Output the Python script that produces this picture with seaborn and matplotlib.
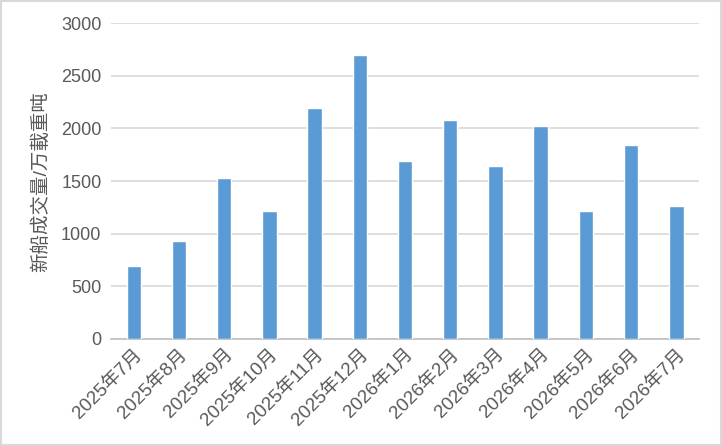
import numpy as np
import pandas as pd
import matplotlib
matplotlib.use('Agg')
import matplotlib.pyplot as plt
import seaborn as sns
from matplotlib.ticker import FixedLocator

months = ['2025年7月', '2025年8月', '2025年9月', '2025年10月', '2025年11月', '2025年12月',
          '2026年1月', '2026年2月', '2026年3月', '2026年4月', '2026年5月', '2026年6月', '2026年7月']
volume = [690, 927, 1528, 1218, 2196, 2699, 1693, 2076, 1639, 2028, 1218, 1839, 1263]
y_ticks = [0, 500, 1000, 1500, 2000, 2500, 3000]
y_label = '新船成交量/万載重吨'

sns.set_theme(style='white')
plt.rcParams['font.family'] = ['Liberation Sans', 'Noto Sans CJK SC', 'DejaVu Sans']

df = pd.DataFrame({'month': months, 'volume': volume})

fig = plt.figure(figsize=(7.22, 4.46), dpi=100)
ax = fig.add_axes([0.154, 0.240, 0.814, 0.708])

sns.barplot(data=df, x='month', y='volume', color='#5B9BD5', width=0.32,
            saturation=1, ax=ax, zorder=3)

txt = '#595959'
ax.set_ylim(0, 3000)
ax.set_yticks(y_ticks)
ax.yaxis.grid(True, color='#D9D9D9', linewidth=1.2, zorder=0)
ax.set_xlim(-0.5, len(months) - 0.5)

ax.tick_params(axis='y', length=0, labelsize=13, labelcolor=txt, pad=7)
ax.tick_params(axis='x', which='major', length=0, labelsize=13.5, labelcolor=txt, pad=5)
ax.xaxis.set_minor_locator(FixedLocator(np.arange(-0.5, len(months), 1.0)))
ax.tick_params(axis='x', which='minor', length=5, width=1, color='#BFBFBF', direction='out')
plt.setp(ax.get_xticklabels(), rotation=45, ha='right', rotation_mode='anchor')

for s in ['top', 'right', 'left']:
    ax.spines[s].set_visible(False)
ax.spines['bottom'].set_color('#BFBFBF')
ax.spines['bottom'].set_linewidth(1.2)

ax.set_xlabel('')
ax.set_ylabel(y_label, fontsize=14, color=txt, labelpad=8)

fig.patches.append(plt.Rectangle((0.002, 0.003), 0.996, 0.994, transform=fig.transFigure,
                                 fill=False, edgecolor='#D9D9D9', linewidth=1.5))

fig.savefig('out.png', dpi=100)
